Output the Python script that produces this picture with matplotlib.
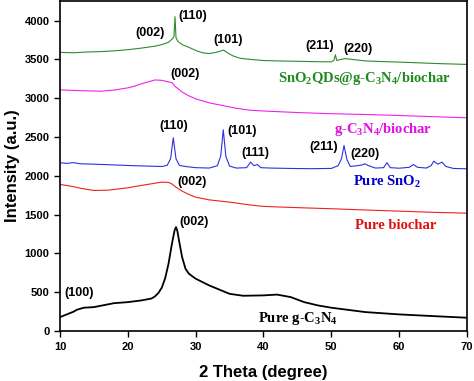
from matplotlib import pyplot as plt

# Pure g-C3N4
gcn_x = [10, 11, 12, 12.5, 13.5, 15, 18, 20, 22, 23.5, 24, 24.5, 25, 25.5, 26,
         26.5, 26.9, 27.1, 27.3, 27.6, 28, 28.5, 29, 30, 32, 35, 37, 40, 42, 44,
         46, 48, 50, 55, 60, 65, 70]
gcn_y = [180, 215, 250, 275, 301, 309, 360, 373, 395, 420, 447, 490, 559, 680, 868,
         1125, 1300, 1340, 1290, 1140, 953, 803, 739, 675, 588, 480, 455, 460, 470, 438,
         373, 331, 301, 245, 215, 193, 172]

# Pure biochar
bc_x = [10, 11, 12, 13, 15, 17, 19, 20, 22, 24, 25, 26, 26.5, 27, 27.5, 28, 29, 30,
        32, 35, 38, 40, 45, 50, 55, 60, 65, 70]
bc_y = [1889, 1875, 1860, 1840, 1811, 1815, 1835, 1846, 1876, 1905, 1919, 1915, 1895,
        1860, 1830, 1803, 1760, 1725, 1690, 1661, 1625, 1606, 1590, 1576, 1560, 1545,
        1530, 1519]

# Pure SnO2
sno_x = [10, 11, 12, 12.5, 13, 15, 18, 20, 23, 25, 25.8, 26.3, 26.7, 27.1, 27.6,
         28.5, 30, 32, 33.2, 33.7, 34.07, 34.45, 35, 36, 37.5, 38.1, 38.6, 39.1, 39.6,
         41, 44, 47, 50, 51.0, 51.5, 51.87, 52.3, 52.8, 53.8, 54.5, 54.96, 55.5, 56.5,
         57.7, 58.2, 58.7, 60, 61.5, 62.1, 62.7, 64, 64.7, 65.1, 65.7, 66.3, 66.9, 68, 70]
sno_y = [2168, 2160, 2170, 2162, 2155, 2150, 2140, 2133, 2125, 2120, 2135, 2220, 2490,
         2220, 2135, 2120, 2105, 2100, 2130, 2260, 2593, 2250, 2125, 2100, 2105, 2176,
         2130, 2146, 2105, 2100, 2095, 2092, 2095, 2130, 2220, 2391, 2210, 2120, 2130,
         2140, 2155, 2130, 2100, 2105, 2168, 2105, 2098, 2110, 2146, 2110, 2100, 2130,
         2189, 2150, 2176, 2120, 2095, 2090]

# g-C3N4/biochar
gb_x = [10, 12, 14, 16, 18, 20, 21, 22, 23, 24, 25, 26, 26.5, 27, 28, 29, 30, 32, 34,
        36, 38, 40, 45, 50, 55, 60, 65, 70]
gb_y = [3107, 3100, 3095, 3090, 3105, 3133, 3155, 3185, 3210, 3235, 3230, 3210, 3200,
        3150, 3080, 3030, 2992, 2940, 2905, 2870, 2845, 2835, 2815, 2800, 2790, 2777,
        2762, 2747]

# SnO2 QDs@g-C3N4/biochar
qd_x = [10, 12, 14, 16, 18, 20, 22, 24, 25, 26, 26.5, 26.8, 26.95, 27.1, 27.4, 28, 29,
        30, 31, 32, 33, 33.6, 34.1, 34.6, 35.5, 36.5, 38, 40, 42, 45, 48, 50, 50.4, 50.6,
        50.8, 51.2, 52, 53, 55, 58, 60, 63, 66, 70]
qd_y = [3590, 3585, 3595, 3600, 3610, 3625, 3645, 3670, 3690, 3720, 3760, 3790, 4050,
        3780, 3730, 3690, 3655, 3615, 3585, 3575, 3590, 3605, 3620, 3590, 3545, 3515,
        3500, 3485, 3480, 3475, 3470, 3468, 3490, 3560, 3485, 3495, 3510, 3500, 3480,
        3470, 3465, 3455, 3445, 3435]

# peak labels (text, x, y)
peak_labels = [
    ('(002)', 23.3, 3842), ('(110)', 29.5, 4065), ('(101)', 34.8, 3752),
    ('(211)', 48.3, 3678), ('(220)', 53.9, 3636),
    ('(002)', 28.4, 3310),
    ('(110)', 26.8, 2636), ('(101)', 36.8, 2575), ('(111)', 38.8, 2297),
    ('(211)', 48.9, 2369), ('(220)', 55.0, 2275),
    ('(002)', 29.5, 1918),
    ('(002)', 29.7, 1404), ('(100)', 12.8, 489),
]

plt.rcParams['font.family'] = 'Liberation Sans'
plt.rcParams['mathtext.fontset'] = 'custom'
plt.rcParams['mathtext.rm'] = 'Liberation Serif:bold'
plt.rcParams['mathtext.it'] = 'Liberation Serif:bold'
plt.rcParams['mathtext.bf'] = 'Liberation Serif:bold'

fig = plt.figure(figsize=(4.74, 3.81), dpi=100)
ax = fig.add_axes([0.1266, 0.131, 0.8586, 0.866])

ax.plot(gcn_x, gcn_y, color='black', lw=1.3)
ax.plot(bc_x, bc_y, color='#ee2020', lw=0.8)
ax.plot(sno_x, sno_y, color='#3030e0', lw=0.8)
ax.plot(gb_x, gb_y, color='#ee22ee', lw=0.8)
ax.plot(qd_x, qd_y, color='#2e8b2e', lw=0.8)

for txt, x, y in peak_labels:
    ax.text(x, y, txt, ha='center', va='center', fontsize=9, fontweight='bold')

serif = dict(ha='center', va='center', fontsize=10.5, fontweight='bold',
             family='Liberation Serif')
ax.text(54.8, 3253, r'SnO$_2$QDs@g-C$_3$N$_4$/biochar', color='#1f8a1f', **serif)
ax.text(57.6, 2597, r'g-C$_3$N$_4$/biochar', color='#e010e0', **serif)
ax.text(58.2, 1918, r'Pure SnO$_2$', color='#0000cc', **serif)
ax.text(59.5, 1361, 'Pure biochar', color='#e01010', **serif)
ax.text(45.1, 160, r'Pure g-C$_3$N$_4$', color='black', **serif)

ax.set_xlim(10, 70)
ax.set_ylim(0, 4250)
ax.set_xticks([10, 20, 30, 40, 50, 60, 70])
ax.set_yticks([0, 500, 1000, 1500, 2000, 2500, 3000, 3500, 4000])
ax.tick_params(labelsize=8, width=1, length=4)
for lab in ax.get_xticklabels() + ax.get_yticklabels():
    lab.set_fontweight('bold')
for sp in ax.spines.values():
    sp.set_linewidth(1.2)

ax.set_xlabel('2 Theta (degree)', fontsize=12, fontweight='bold', labelpad=10)
ax.set_ylabel('Intensity (a.u.)', fontsize=12, fontweight='bold', labelpad=3)

plt.savefig('out.png', dpi=100)
